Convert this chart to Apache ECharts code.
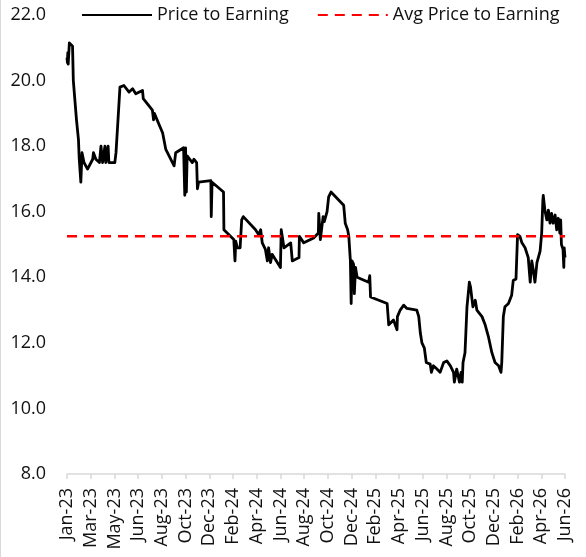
<!DOCTYPE html>
<html>
<head>
<meta charset="utf-8">
<script src="https://cdn.jsdelivr.net/npm/echarts@6/dist/echarts.min.js"></script>
<style>
  html, body { margin: 0; padding: 0; background: #fff; }
  #chart { width: 586px; height: 557px; box-sizing: border-box; border-left: 1px solid #d9d9d9; }
</style>
</head>
<body>
<div id="chart"></div>
<script>
// x values are days counted from 1 Jan 2023
const xTickLabels = ['Jan-23', 'Mar-23', 'May-23', 'Jun-23', 'Aug-23', 'Oct-23', 'Dec-23', 'Feb-24',
  'Apr-24', 'Jun-24', 'Aug-24', 'Oct-24', 'Dec-24', 'Feb-25', 'Apr-25', 'Jun-25', 'Aug-25',
  'Oct-25', 'Dec-25', 'Feb-26', 'Apr-26', 'Jun-26'];
const tickStepDays = 60;

const peDays = [0, 1, 2, 3, 6, 9, 14, 16, 24, 29, 31, 35, 38, 43, 52, 65, 67, 73, 82, 86, 90, 96, 98, 104, 106,
  121, 124, 128, 131, 134, 144, 157, 166, 174, 191, 193, 216, 219, 221, 242, 250, 271, 275, 295, 298,
  300, 302, 304, 309, 317, 321, 328, 330, 333, 364, 365, 367, 396, 397, 422, 425, 427, 431, 438, 442,
  446, 477, 485, 490, 494, 502, 507, 510, 515, 519, 540, 542, 549, 566, 570, 587, 588, 599, 624, 636,
  637, 641, 646, 648, 651, 658, 662, 668, 700, 704, 710, 713, 717, 719, 721, 725, 727, 730, 734, 763,
  766, 768, 810, 814, 826, 835, 836, 843, 852, 860, 885, 890, 894, 898, 904, 909, 919, 922, 927, 936,
  944, 953, 961, 970, 978, 980, 986, 993, 997, 1000, 1002, 1007, 1012, 1018, 1021, 1027, 1033, 1037,
  1050, 1058, 1066, 1075, 1083, 1092, 1098, 1100, 1104, 1108, 1117, 1125, 1129, 1136, 1140, 1146,
  1151, 1159, 1167, 1172, 1176, 1180, 1184, 1189, 1192, 1197, 1201, 1204, 1205, 1208, 1209, 1214,
  1218, 1222, 1226, 1230, 1235, 1239, 1243, 1247, 1249, 1251, 1255, 1257, 1258, 1260];
const peValues = [20.7, 20.55, 20.85, 20.5, 21.15, 21.1, 21.05, 20.0, 18.8, 18.2, 17.6, 16.9, 17.8, 17.5, 17.3,
  17.6, 17.8, 17.6, 17.5, 18.0, 17.5, 18.0, 17.5, 18.0, 17.5,
  17.5, 17.8, 18.6, 19.2, 19.8, 19.85, 19.65, 19.75, 19.6, 19.7, 19.45, 19.1, 18.8, 19.0, 18.4, 17.9, 17.4, 17.8, 17.95, 16.5,
  17.95, 16.6, 17.7, 17.7, 17.5, 17.6, 17.5, 16.7, 16.9, 16.95, 15.85, 16.9, 16.6, 15.45, 15.15, 14.5, 15.1, 14.9, 14.9, 15.75,
  15.85, 15.45, 15.3, 15.45, 15.05, 14.85, 14.5, 14.9, 14.45, 14.7, 14.3, 15.45, 14.9, 15.05, 14.5, 14.6, 15.25, 15.05, 15.2, 15.35,
  15.95, 15.15, 15.2, 15.85, 15.7, 16.0, 16.45, 16.6, 16.2, 15.65, 15.45, 15.25, 14.5, 13.2, 14.5, 14.4, 13.5, 14.3, 14.0, 13.85,
  14.05, 13.4, 13.2, 12.55, 12.7, 12.4, 12.8, 13.0, 13.15, 13.05, 13.0, 12.8, 12.3, 12.0, 11.85, 11.4, 11.35, 11.1, 11.3, 11.2,
  11.1, 11.4, 11.45, 11.3, 11.1, 10.8, 11.2, 10.8, 11.1, 10.8, 11.4, 11.7, 13.1, 13.85, 13.7, 13.1, 13.3, 13.0,
  12.8, 12.55, 12.2, 11.7, 11.4, 11.3, 11.1, 11.4, 12.8, 13.1, 13.2, 13.45, 13.9, 13.95, 15.3, 15.25,
  15.05, 14.9, 14.6, 13.85, 14.5, 14.2, 13.85, 14.45, 14.4, 14.8, 15.35, 16.35, 16.5, 16.45, 16.05, 15.75,
  16.05, 15.65, 15.95, 15.65, 15.9, 15.45, 15.8, 15.35, 15.75, 15.0, 14.85, 14.3, 14.9, 14.6];

const avgPE = 15.25;
const avgDays = [0, 1260];

const peData = peDays.map((d, i) => [d, peValues[i]]);
const avgData = avgDays.map(d => [d, avgPE]);

const chart = echarts.init(document.getElementById('chart'));
const font = '"Open Sans", sans-serif';

chart.setOption({
  animation: false,
  legend: {
    top: 1,
    left: 75,
    itemWidth: 70,
    itemHeight: 14,
    itemGap: 28,
    itemStyle: { opacity: 0 },
    textStyle: { fontFamily: font, fontSize: 18, color: '#111' },
    data: ['Price to Earning', 'Avg Price to Earning']
  },
  grid: { left: 66, right: 21, top: 15, bottom: 83 },
  xAxis: {
    type: 'value',
    min: 0,
    max: 1260,
    interval: tickStepDays,
    splitLine: { show: false },
    axisLine: { show: true, lineStyle: { color: '#d9d9d9', width: 1.5 } },
    axisTick: { show: true, length: 5, lineStyle: { color: '#d9d9d9', width: 1.5 } },
    axisLabel: {
      rotate: 90,
      margin: 14,
      fontFamily: font,
      fontSize: 18,
      color: '#111',
      showMinLabel: true,
      showMaxLabel: true,
      formatter: v => xTickLabels[Math.round(v / tickStepDays)] || ''
    }
  },
  yAxis: {
    type: 'value',
    min: 8,
    max: 22,
    interval: 2,
    splitLine: { show: false },
    axisLine: { show: false },
    axisTick: { show: false },
    axisLabel: {
      margin: 21,
      fontFamily: font,
      fontSize: 18,
      color: '#111',
      formatter: v => v.toFixed(1)
    }
  },
  series: [
    {
      name: 'Price to Earning',
      type: 'line',
      data: peData,
      symbol: 'none',
      lineStyle: { color: '#000', width: 2.8, join: 'round' },
      itemStyle: { color: '#000' }
    },
    {
      name: 'Avg Price to Earning',
      type: 'line',
      data: avgData,
      symbol: 'none',
      lineStyle: { color: '#ff0000', width: 2.5, type: [10, 7] },
      itemStyle: { color: '#ff0000' }
    }
  ]
});
</script>
</body>
</html>
